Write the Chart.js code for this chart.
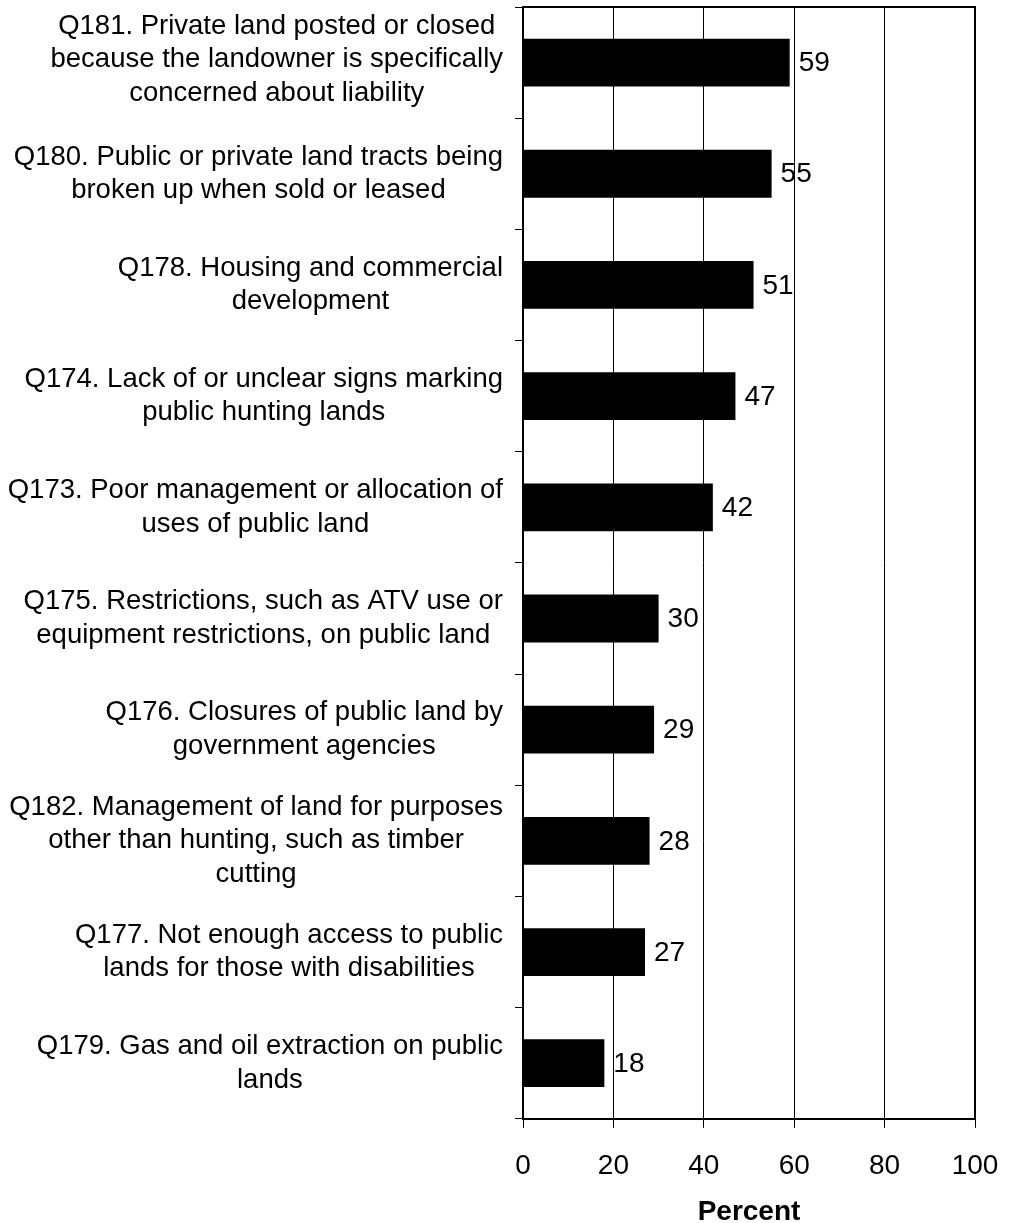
<!DOCTYPE html>
<html>
<head>
<meta charset="utf-8">
<script src="https://cdn.jsdelivr.net/npm/chart.js@4/dist/chart.umd.min.js"></script>
<style>
  html, body { margin: 0; padding: 0; background: #fff; }
  #wrap { width: 1010px; height: 1223px; }
</style>
</head>
<body>
<div id="wrap"><canvas id="chart" width="1010" height="1223"></canvas></div>
<script>
// Données
const questions = [
    ['Q181. Private land posted or closed', 'because the landowner is specifically', 'concerned about liability'],
    ['Q180. Public or private land tracts being', 'broken up when sold or leased'],
    ['Q178. Housing and commercial', 'development'],
    ['Q174. Lack of or unclear signs marking', 'public hunting lands'],
    ['Q173. Poor management or allocation of', 'uses of public land'],
    ['Q175. Restrictions, such as ATV use or', 'equipment restrictions, on public land'],
    ['Q176. Closures of public land by', 'government agencies'],
    ['Q182. Management of land for purposes', 'other than hunting, such as timber', 'cutting'],
    ['Q177. Not enough access to public', 'lands for those with disabilities'],
    ['Q179. Gas and oil extraction on public', 'lands']
];
const percents = [59, 55, 51, 47, 42, 30, 29, 28, 27, 18];
const xTicks = [0, 20, 40, 60, 80, 100];

const FONT = 'Arial, "Liberation Sans", sans-serif';

// Étiquettes de catégories : bloc aligné à droite, lignes centrées
const labelPlugin = {
    id: 'blockLabels',
    afterDraw(chart) {
        const ctx = chart.ctx;
        const y = chart.scales.y;
        const right = chart.chartArea.left - 20;
        const lh = 33.5;
        ctx.save();
        ctx.font = '27.5px ' + FONT;
        ctx.fillStyle = '#000';
        ctx.textAlign = 'center';
        ctx.textBaseline = 'middle';
        questions.forEach((lines, i) => {
            const w = Math.max(...lines.map(l => ctx.measureText(l).width));
            const cx = right - w / 2;
            const cy = y.getPixelForValue(i) - (i === 0 ? 3 : 0);
            lines.forEach((l, k) => {
                ctx.fillText(l, cx, cy + (k - (lines.length - 1) / 2) * lh);
            });
        });
        ctx.restore();
    }
};

// Valeurs au bout des barres + cadre
const valuePlugin = {
    id: 'values',
    afterDatasetsDraw(chart) {
        const ctx = chart.ctx;
        const meta = chart.getDatasetMeta(0);
        ctx.save();
        ctx.font = '28px ' + FONT;
        ctx.fillStyle = '#000';
        ctx.textAlign = 'left';
        ctx.textBaseline = 'middle';
        meta.data.forEach((bar, i) => {
            ctx.fillText(String(percents[i]), bar.x + 9, bar.y + 1);
        });
        const a = chart.chartArea;
        ctx.strokeStyle = '#000';
        ctx.lineWidth = 2;
        ctx.beginPath();
        ctx.moveTo(a.left, a.top);
        ctx.lineTo(a.right, a.top);
        ctx.lineTo(a.right, a.bottom);
        ctx.stroke();
        ctx.restore();
    }
};

new Chart(document.getElementById('chart'), {
    type: 'bar',
    data: {
        labels: questions,
        datasets: [{
            data: percents,
            backgroundColor: '#000',
            borderWidth: 0,
            barPercentage: 0.86,
            categoryPercentage: 0.5
        }]
    },
    plugins: [labelPlugin, valuePlugin],
    options: {
        indexAxis: 'y',
        responsive: false,
        animation: false,
        layout: { autoPadding: false, padding: { left: 515, top: 7, right: 35, bottom: -6 } },
        plugins: { legend: { display: false }, tooltip: { enabled: false } },
        scales: {
            x: {
                min: 0,
                max: 100,
                afterBuildTicks: (s) => { s.ticks = xTicks.map(v => ({ value: v })); },
                afterFit: (s) => { s.paddingRight = 0; s.paddingLeft = 0; },
                grid: { color: '#000', lineWidth: 1, tickLength: 9, drawTicks: true },
                border: { display: true, color: '#000', width: 2 },
                ticks: {
                    color: '#000',
                    font: { family: FONT, size: 28 },
                    padding: 22,
                    maxRotation: 0
                },
                title: {
                    display: true,
                    text: 'Percent',
                    color: '#000',
                    font: { family: FONT, size: 28, weight: 'bold' },
                    padding: { top: -10, bottom: 0 }
                }
            },
            y: {
                grid: { drawOnChartArea: false, drawTicks: true, tickLength: 8, color: '#000', lineWidth: 1, offset: true },
                border: { display: true, color: '#000', width: 2 },
                ticks: { display: false }
            }
        }
    }
});
</script>
</body>
</html>
